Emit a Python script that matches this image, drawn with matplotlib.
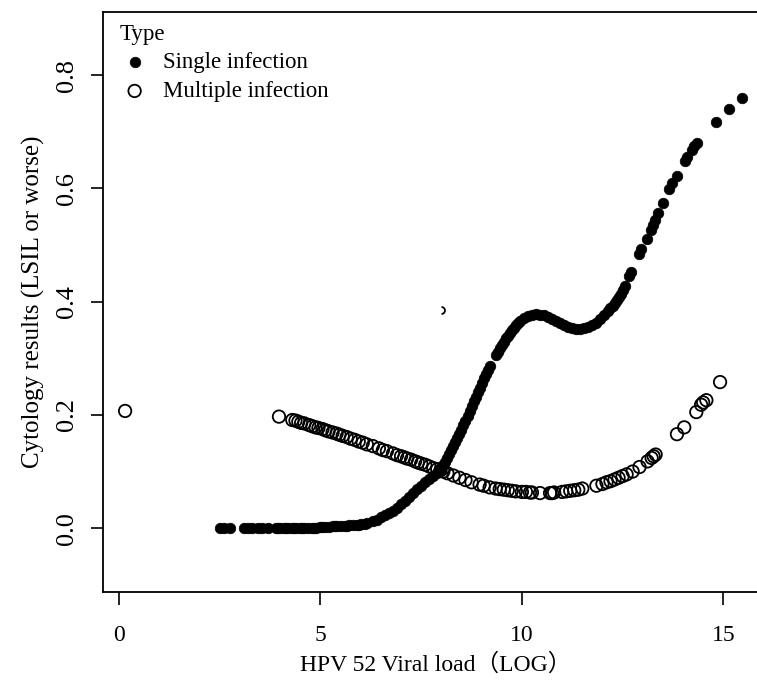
import matplotlib
matplotlib.use('Agg')
import matplotlib.pyplot as plt
from matplotlib.path import Path

plt.rcParams['font.family'] = ['Liberation Serif', 'Noto Sans CJK SC']

# Single infection (filled points)
single_x = [2.5, 2.6, 2.75,
            3.1, 3.2, 3.3, 3.45, 3.55, 3.7,
            3.9, 3.95, 4.0, 4.1, 4.15, 4.2, 4.3, 4.35, 4.4, 4.5, 4.55, 4.6, 4.7,
            4.8, 4.85, 4.9, 5.0, 5.05, 5.1, 5.2, 5.3, 5.35, 5.4, 5.5, 5.6, 5.65,
            5.7, 5.8, 5.9, 5.95, 6.0, 6.1, 6.15,
            6.3, 6.4, 6.5, 6.6, 6.7, 6.8, 6.9, 7.0, 7.1, 7.2, 7.3, 7.4, 7.5, 7.6,
            7.7, 7.8, 7.9, 7.95, 8.0, 8.05, 8.1, 8.15, 8.2, 8.25, 8.3, 8.35, 8.4,
            8.45, 8.5, 8.55, 8.6, 8.65, 8.7, 8.75, 8.8, 8.85, 8.9, 8.95, 9.0,
            9.05, 9.1, 9.15, 9.2, 9.35, 9.4, 9.45, 9.5, 9.55, 9.6, 9.65, 9.7,
            9.75, 9.8, 9.85, 9.9, 9.95, 10.05, 10.15,
            10.25, 10.35, 10.45, 10.55, 10.65, 10.75, 10.85, 10.95, 11.05, 11.15,
            11.25, 11.35, 11.45, 11.55, 11.65, 11.75, 11.85, 11.95, 12.05, 12.15,
            12.2, 12.25, 12.3, 12.35, 12.4, 12.45, 12.5, 12.55, 12.65, 12.7,
            12.9, 12.95, 13.1, 13.2,
            13.25, 13.3, 13.38, 13.5, 13.65, 13.72, 13.85, 14.05, 14.1, 14.22,
            14.28, 14.35, 14.83, 15.15, 15.47]
single_y = [0.0, 0.0, 0.0,
            0.0, 0.0, 0.0, 0.0, 0.0, 0.0,
            0.0, 0.0, 0.0, 0.0, 0.0, 0.0, 0.0, 0.0, 0.0, 0.0, 0.001, 0.001, 0.001,
            0.001, 0.001, 0.001, 0.002, 0.002, 0.002, 0.002, 0.003, 0.003, 0.003,
            0.004, 0.004, 0.004, 0.005, 0.005, 0.006, 0.006, 0.007, 0.008, 0.009,
            0.012, 0.015, 0.019, 0.023, 0.027, 0.031, 0.036, 0.042, 0.048, 0.055,
            0.062, 0.069, 0.075, 0.081, 0.087, 0.092, 0.098, 0.101, 0.105, 0.111,
            0.117, 0.124, 0.131, 0.138, 0.145, 0.152, 0.159, 0.166, 0.174, 0.182,
            0.19, 0.198, 0.207, 0.215, 0.224, 0.232, 0.24, 0.248, 0.257, 0.265,
            0.273, 0.28, 0.287, 0.305, 0.311, 0.318, 0.324, 0.329, 0.335, 0.34,
            0.345, 0.35, 0.354, 0.358, 0.362, 0.365, 0.371, 0.375,
            0.377, 0.378, 0.377, 0.376, 0.373, 0.37, 0.366, 0.362, 0.358, 0.355,
            0.353, 0.352, 0.352, 0.353, 0.355, 0.358, 0.363, 0.369, 0.376, 0.384,
            0.388, 0.393, 0.398, 0.403, 0.408, 0.414, 0.421, 0.428, 0.445, 0.452,
            0.485, 0.493, 0.51, 0.526,
            0.535, 0.545, 0.557, 0.575, 0.599, 0.609, 0.622, 0.648, 0.655, 0.668,
            0.675, 0.681, 0.717, 0.741, 0.76]

# Multiple infection (open circles)
multi_x = [0.15, 3.97,
           4.3, 4.38, 4.45, 4.52, 4.6, 4.72, 4.8, 4.88, 4.95, 5.05, 5.12, 5.2,
           5.3, 5.4, 5.47, 5.55, 5.65, 5.75, 5.85, 5.95, 6.05, 6.15, 6.3, 6.45,
           6.55, 6.65, 6.8, 6.9, 7.0, 7.08, 7.15, 7.25, 7.35, 7.42, 7.5, 7.6,
           7.7, 7.8, 7.9, 7.98, 8.05, 8.15, 8.3, 8.45, 8.6, 8.75, 8.95, 9.05,
           9.2, 9.35, 9.45, 9.55, 9.65, 9.75, 9.85, 10.0, 10.1, 10.2, 10.25,
           10.45, 10.7, 10.75, 10.8, 11.0, 11.1, 11.2, 11.3, 11.4, 11.5, 11.85,
           12.0, 12.1, 12.2, 12.3, 12.4, 12.5, 12.6, 12.75, 12.92, 13.12, 13.22,
           13.27, 13.32, 13.85, 14.03, 14.33, 14.45, 14.5, 14.58, 14.92]
multi_y = [0.207, 0.197,
           0.191, 0.19, 0.188, 0.186, 0.185, 0.182, 0.18, 0.178, 0.177, 0.175,
           0.173, 0.171, 0.169, 0.167, 0.165, 0.163, 0.161, 0.158, 0.156, 0.153,
           0.151, 0.148, 0.145, 0.141, 0.138, 0.136, 0.132, 0.129, 0.127, 0.125,
           0.123, 0.121, 0.118, 0.116, 0.114, 0.112, 0.109, 0.106, 0.104, 0.102,
           0.1, 0.097, 0.093, 0.089, 0.085, 0.081, 0.077, 0.075, 0.072, 0.07,
           0.069, 0.068, 0.067, 0.066, 0.065, 0.064, 0.064, 0.063, 0.063, 0.062,
           0.062, 0.062, 0.063, 0.064, 0.065, 0.066, 0.067, 0.068, 0.07, 0.075,
           0.078, 0.081, 0.083, 0.086, 0.089, 0.092, 0.095, 0.1, 0.108, 0.118,
           0.124, 0.127, 0.13, 0.166, 0.178, 0.205, 0.218, 0.222, 0.226, 0.258]

# small clipped mark near (8, 0.385)
stray_x = [8.0]
stray_y = [0.386]

xticks = [0, 5, 10, 15]
yticks = [0.0, 0.2, 0.4, 0.6, 0.8]

fig = plt.figure(figsize=(7.57, 6.83), dpi=100)
ax = fig.add_axes([0.136, 0.133, 0.878, 0.849])

ax.scatter(single_x, single_y, s=58, c='black', edgecolors='black',
           linewidths=0.5, label='Single infection', zorder=3)
ax.scatter(multi_x, multi_y, s=80, facecolors='none', edgecolors='black',
           linewidths=1.3, label='Multiple infection', zorder=2)

half = Path.arc(-90, 90)
ax.plot(stray_x, stray_y, linestyle='none', marker=half, markersize=5,
        markerfacecolor='none', markeredgecolor='black', markeredgewidth=1.3)

ax.set_xlim(-0.4, 16.1)
ax.set_ylim(-0.113, 0.911)
ax.set_xticks(xticks)
ax.set_xticklabels([str(t) for t in xticks], fontsize=17)
ax.set_yticks(yticks)
ax.set_yticklabels(['%.1f' % t for t in yticks], fontsize=19,
                   rotation=90, va='center')
ax.tick_params(axis='x', length=9, width=1.2, pad=15)
ax.tick_params(axis='y', length=9, width=1.2, pad=9)
for sp in ax.spines.values():
    sp.set_linewidth(1.3)

ax.set_xlabel('HPV 52 Viral load（LOG）', fontsize=17, labelpad=5)
ax.set_ylabel('Cytology results (LSIL or worse)', fontsize=18, labelpad=8)

leg = ax.legend(title='Type', loc='upper left', bbox_to_anchor=(0.008, 1.0),
                frameon=False, fontsize=16.5, title_fontsize=16.5,
                handletextpad=0.6, borderaxespad=0.1, labelspacing=0.33,
                alignment='left', handlelength=1.3, markerscale=1.0)

fig.savefig('out.png', dpi=100)
